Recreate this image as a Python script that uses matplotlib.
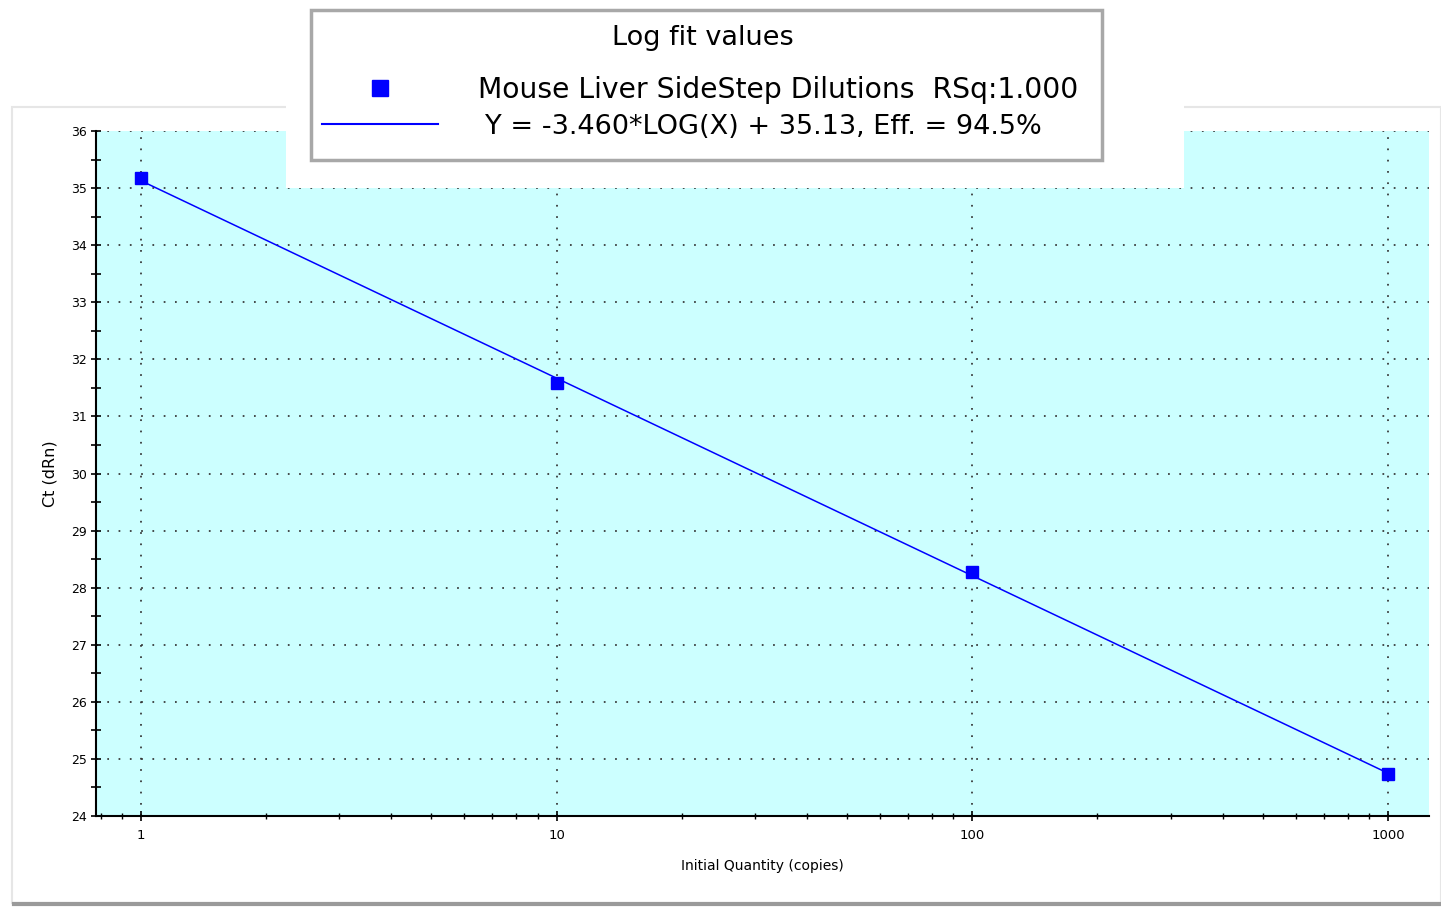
import numpy as np
import matplotlib
matplotlib.use('Agg')
import matplotlib.pyplot as plt
from matplotlib.patches import Rectangle
from matplotlib.lines import Line2D
from matplotlib.ticker import LogLocator, FixedLocator, MultipleLocator, NullFormatter

plt.rcParams['font.family'] = ['DejaVu Sans']

# data
quantity = [1, 10, 100, 1000]
ct = [35.17, 31.59, 28.27, 24.74]
slope = -3.460
intercept = 35.13
x_ticks = [1, 10, 100, 1000]
x_labels = ['1', '10', '100', '1000']
y_ticks = list(range(24, 37))

series_label = 'Mouse Liver SideStep Dilutions  RSq:1.000'
fit_label = 'Y = -3.460*LOG(X) + 35.13, Eff. = 94.5%'

W, H = 1441, 907
fig = plt.figure(figsize=(W / 100, H / 100), dpi=100)
fig.patch.set_facecolor('white')

# outer panel frame
fig.add_artist(Rectangle((12 / W, 1 - 903 / H), (W - 12) / W, (903 - 107) / H,
                         transform=fig.transFigure, fill=False,
                         edgecolor='#e6e6e6', lw=1.5, zorder=0))
fig.add_artist(Line2D([14 / W, 1], [1 - 904 / H] * 2, transform=fig.transFigure,
                      color='#9a9a9a', lw=3, zorder=0))

ax = fig.add_axes([96 / W, 1 - 816 / H, (1429 - 96) / W, (816 - 131) / H])
ax.set_facecolor('#ccffff')

fit = [slope * np.log10(q) + intercept for q in quantity]
ax.plot(quantity, fit, color='#0000ff', lw=1.1, zorder=3)
ax.plot(quantity, ct, 's', color='#0000ff', markersize=8.5, zorder=4)

ax.set_xscale('log')
ax.set_xlim(0.78, 1255)
ax.set_ylim(24, 36)
ax.xaxis.set_major_locator(FixedLocator(x_ticks))
ax.set_xticklabels(x_labels)
ax.xaxis.set_minor_locator(LogLocator(base=10, subs=np.arange(2, 10)))
ax.xaxis.set_minor_formatter(NullFormatter())
ax.set_yticks(y_ticks)
ax.yaxis.set_minor_locator(MultipleLocator(0.5))

ax.grid(True, which='major', color='#333333', linestyle=(0, (1, 5.5)), lw=1.25)
for s in ['top', 'right']:
    ax.spines[s].set_visible(False)
for s in ['left', 'bottom']:
    ax.spines[s].set_linewidth(1.5)
ax.tick_params(axis='both', which='major', direction='inout', length=7, width=1.2,
               colors='black', pad=3)
ax.tick_params(axis='y', which='minor', direction='inout', length=7, width=1.2)
ax.tick_params(axis='x', which='minor', direction='inout', length=4, width=1.0)
ax.tick_params(axis='y', labelsize=9)
ax.tick_params(axis='x', labelsize=9.5, pad=6)

ax.set_xlabel('Initial Quantity (copies)', fontsize=10, labelpad=12)
ax.set_ylabel('Ct (dRn)', fontsize=11.5, labelpad=10)

# legend backdrop and box
fig.add_artist(Rectangle((286 / W, 1 - 188 / H), (1184 - 286) / W, 188 / H,
                         transform=fig.transFigure, facecolor='white',
                         edgecolor='none', zorder=5))
fig.add_artist(Rectangle((311 / W, 1 - 160 / H), (1102 - 311) / W, 150 / H,
                         transform=fig.transFigure, facecolor='white',
                         edgecolor='#a8a8a8', lw=2.5, zorder=6))
fig.text(703 / W, 1 - 38 / H, 'Log fit values', fontsize=19.5, ha='center',
         va='center', zorder=7)
fig.add_artist(Line2D([380 / W], [1 - 88 / H], transform=fig.transFigure,
                      marker='s', color='#0000ff', markersize=12, zorder=7))
fig.add_artist(Line2D([322 / W, 438 / W], [1 - 124 / H] * 2, transform=fig.transFigure,
                      color='#0000ff', lw=1.5, zorder=7))
fig.text(478 / W, 1 - 90 / H, series_label, fontsize=20.3, ha='left', va='center', zorder=7)
fig.text(485 / W, 1 - 127 / H, fit_label, fontsize=19.5, ha='left', va='center', zorder=7)

fig.savefig('out.png', dpi=100)
